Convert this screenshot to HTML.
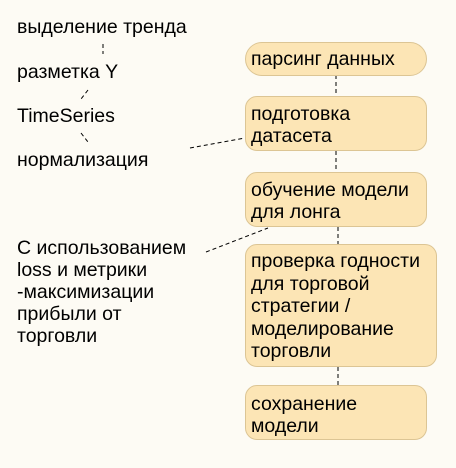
<!DOCTYPE html>
<html><head><meta charset="utf-8"><style>
body{margin:0;width:456px;height:468px;background:#fdfbf4;overflow:hidden;font-family:"Liberation Sans",sans-serif;}
.t{position:absolute;font-size:19.5px;color:#000;line-height:22px;white-space:nowrap}
.b{position:absolute;background:#fce5b5;border:1px solid #dcc594;border-radius:12px;box-sizing:border-box;padding:6px 0 0 5px;font-size:19.5px;line-height:22px;white-space:nowrap}
</style></head><body>
<svg width="456" height="468" style="position:absolute;left:0;top:0">
<g stroke="#000" stroke-width="1" stroke-dasharray="4,3" fill="none">
<line x1="103" y1="44" x2="103" y2="54"/>
<line x1="88" y1="90" x2="81" y2="99"/>
<line x1="81" y1="133" x2="88" y2="142"/>
<line x1="190" y1="148" x2="245" y2="138"/>
<line x1="206" y1="252" x2="268" y2="228"/>
<line x1="336" y1="75" x2="336" y2="96"/>
<line x1="336" y1="151" x2="336" y2="172"/>
<line x1="338" y1="227" x2="338" y2="244"/>
<line x1="338" y1="367" x2="338" y2="385"/>
</g></svg>
<div class="t" style="left:17px;top:16px">выделение тренда</div>
<div class="t" style="left:17px;top:61px">разметка Y</div>
<div class="t" style="left:17px;top:105px">TimeSeries</div>
<div class="t" style="left:17px;top:149px">нормализация</div>
<div class="t" style="left:17px;top:237px">С использованием<br>loss и метрики<br>-максимизации<br>прибыли от<br>торговли</div>
<div class="b" style="left:245px;top:42px;width:182px;height:34px;border-radius:17px;padding-top:5px">парсинг данных</div>
<div class="b" style="left:245px;top:96px;width:182px;height:55px">подготовка<br>датасета</div>
<div class="b" style="left:245px;top:172px;width:182px;height:55px">обучение модели<br>для лонга</div>
<div class="b" style="left:245px;top:244px;width:192px;height:123px;padding-top:5px;line-height:22.6px">проверка годности<br>для торговой<br>стратегии /<br>моделирование<br>торговли</div>
<div class="b" style="left:245px;top:385px;width:182px;height:55px;padding-top:7px">сохранение<br>модели</div>
</body></html>
